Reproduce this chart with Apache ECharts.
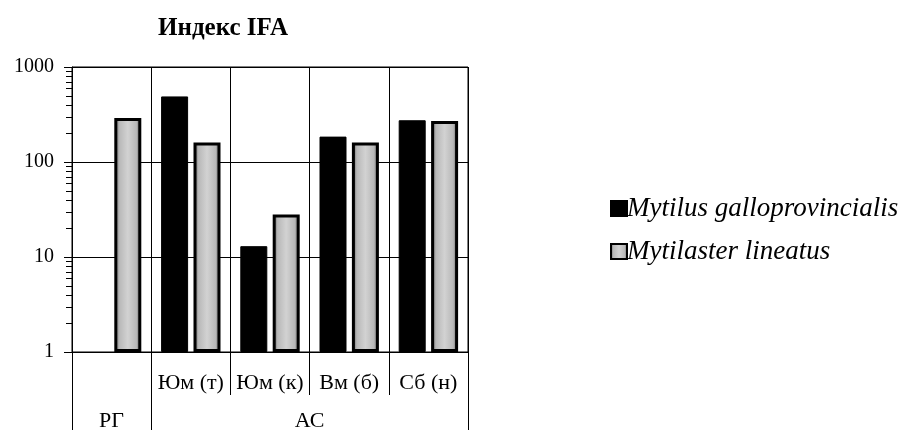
<!DOCTYPE html>
<html>
<head>
<meta charset="utf-8">
<script src="https://cdn.jsdelivr.net/npm/echarts@6/dist/echarts.min.js"></script>
<style>
html,body{margin:0;padding:0;background:#fff;}
#chart{width:907px;height:432px;}
</style>
</head>
<body>
<div id="chart"></div>
<script>
// ---- data ----
const categories = ['', 'Юм (т)', 'Юм (к)', 'Вм (б)', 'Сб (н)'];
const groupNames = ['РГ', 'АС'];
const groupSpans = [1, 4];
const seriesNames = ['Mytilus galloprovincialis', 'Mytilaster lineatus'];
const mytilusValues = [null, 490, 13, 185, 275];
const mytilasterValues = [290, 160, 28, 160, 270];
const minorTickValues = [2,3,4,5,6,7,8,9,20,30,40,50,60,70,80,90,200,300,400,500,600,700,800,900];
const titleText = 'Индекс IFA';

// ---- build group axis slots (two slots per category) ----
const groupSlots = [];
const groupTickIdx = [0];
let pos = 0;
groupNames.forEach((g, i) => {
  const n = groupSpans[i] * 2;
  for (let k = 0; k < n; k++) groupSlots.push(k === groupSpans[i] ? g : '');
  pos += n;
  groupTickIdx.push(pos);
});
groupSlots.push('');

const FONT = 'Liberation Serif';
const chart = echarts.init(document.getElementById('chart'), null, {renderer: 'canvas'});

const greyFill = new echarts.graphic.LinearGradient(0, 0, 1, 0, [
  {offset: 0, color: '#4a4a4a'},
  {offset: 0.18, color: '#b8b8b8'},
  {offset: 0.5, color: '#d2d2d2'},
  {offset: 0.82, color: '#b8b8b8'},
  {offset: 1, color: '#4a4a4a'}
]);

const option = {
  animation: false,
  backgroundColor: '#fff',
  title: {
    text: titleText,
    left: 218,
    top: 11,
    textAlign: 'center',
    textStyle: {fontFamily: FONT, fontWeight: 'bold', fontSize: 25, color: '#000'}
  },
  legend: {
    orient: 'vertical',
    left: 605,
    top: 190,
    itemWidth: 16,
    itemHeight: 15,
    itemGap: 16,
    icon: 'rect',
    data: seriesNames,
    textStyle: {fontFamily: FONT, fontStyle: 'italic', fontSize: 27, color: '#000', lineHeight: 27, padding: [0,0,0,-5]}
  },
  grid: {left: 72, right: 439, top: 67, bottom: 78, show: true, borderColor: '#000', borderWidth: 1},
  xAxis: [
    {
      type: 'category',
      data: categories,
      position: 'bottom',
      axisLine: {show: true, lineStyle: {color: '#000', width: 1}},
      axisTick: {show: true, interval: 0, length: 43, lineStyle: {color: '#000'}},
      axisLabel: {interval: 0, margin: 20, fontFamily: FONT, fontSize: 22, color: '#000'},
      splitLine: {show: true, interval: 0, lineStyle: {color: '#000', width: 1}}
    },
    {
      type: 'category',
      data: groupSlots,
      boundaryGap: false,
      position: 'bottom',
      axisLine: {show: false},
      axisTick: {show: true, length: 78, interval: (i) => groupTickIdx.indexOf(i) >= 0, lineStyle: {color: '#000'}},
      axisLabel: {interval: 0, margin: 58, fontFamily: FONT, fontSize: 22, color: '#000'},
      splitLine: {show: false}
    }
  ],
  yAxis: {
    type: 'log',
    logBase: 10,
    min: 1,
    max: 1000,
    axisLine: {show: true, lineStyle: {color: '#000'}},
    axisTick: {show: true, length: 8, lineStyle: {color: '#000'}},
    axisLabel: {margin: 18, fontFamily: FONT, fontSize: 20, color: '#000', formatter: (v) => String(Math.round(v))},
    splitLine: {show: true, lineStyle: {color: '#000', width: 1}}
  },
  series: [
    {
      name: seriesNames[0],
      type: 'bar',
      data: mytilusValues,
      barWidth: 27,
      barGap: '20%',
      itemStyle: {color: '#000', borderColor: '#000', borderWidth: 1}
    },
    {
      name: seriesNames[1],
      type: 'bar',
      data: mytilasterValues,
      barWidth: 27,
      barGap: '20%',
      itemStyle: {color: greyFill, borderColor: '#000', borderWidth: 3}
    }
  ]
};
chart.setOption(option);

// minor log ticks, positioned through the y axis scale
const x0 = chart.convertToPixel({xAxisIndex: 0}, 0) - (chart.convertToPixel({xAxisIndex: 0}, 1) - chart.convertToPixel({xAxisIndex: 0}, 0)) / 2;
const minorGraphics = minorTickValues.map(v => {
  const y = Math.round(chart.convertToPixel({yAxisIndex: 0}, v)) + 0.5;
  return {
    type: 'line',
    silent: true,
    shape: {x1: x0 - 6, y1: y, x2: x0, y2: y},
    style: {stroke: '#000', lineWidth: 1}
  };
});
chart.setOption({graphic: minorGraphics});
</script>
</body>
</html>
